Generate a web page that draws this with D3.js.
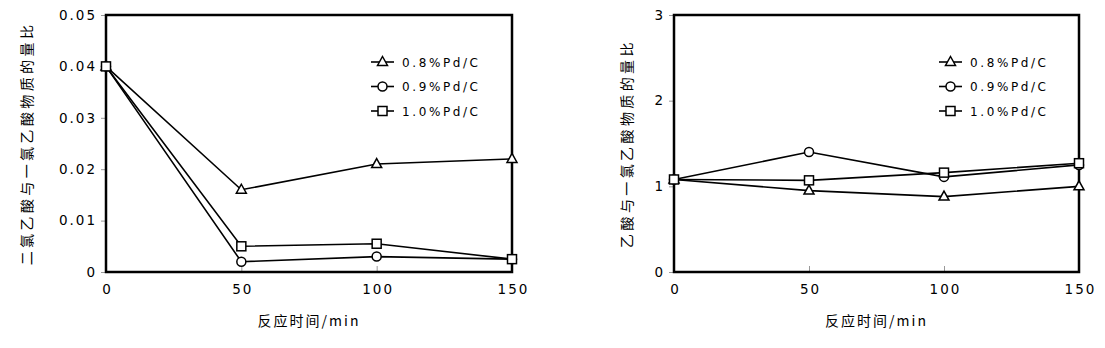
<!DOCTYPE html>
<html>
<head>
<meta charset="utf-8">
<script src="https://cdn.jsdelivr.net/npm/d3@7"></script>
<style>
  body { margin: 0; background: #fff; }
  svg text { fill: #000; }
</style>
</head>
<body>
<div id="chart"></div>
<script>
// data
const times = [0, 50, 100, 150];
const seriesNames = ["0.8%Pd/C", "0.9%Pd/C", "1.0%Pd/C"];
const markers = ["triangle", "circle", "square"];

// left: dichloroacetic / monochloroacetic ratio
const leftPd08 = [0.040, 0.016, 0.021, 0.022];
const leftPd09 = [0.040, 0.002, 0.003, 0.0025];
const leftPd10 = [0.040, 0.005, 0.0055, 0.0025];
const leftTicks = [0, 0.01, 0.02, 0.03, 0.04, 0.05];
const leftTitle = "二氯乙酸与一氯乙酸物质的量比";

// right: acetic / monochloroacetic ratio
const rightPd08 = [1.08, 0.95, 0.88, 1.00];
const rightPd09 = [1.08, 1.40, 1.11, 1.25];
const rightPd10 = [1.08, 1.07, 1.16, 1.27];
const rightTicks = [0, 1, 2, 3];
const rightTitle = "乙酸与一氯乙酸物质的量比";

const xTicks = [0, 50, 100, 150];
const xTitle = "反应时间/min";

const W = 1105, H = 348;
const svg = d3.select("#chart").append("svg")
    .attr("width", W)
    .attr("height", H);

const numFont = "'DejaVu Sans', sans-serif";
const cjkFont = "'Noto Sans CJK SC', sans-serif";

function drawMarker(g, type, cx, cy) {
    const s = 4.5;
    if (type === "triangle") {
        g.append("path")
            .attr("d", `M${cx},${cy - s - 1}L${cx + s + 0.5},${cy + s - 1}L${cx - s - 0.5},${cy + s - 1}Z`)
            .attr("fill", "#fff").attr("stroke", "#000").attr("stroke-width", 1.5);
    } else if (type === "circle") {
        g.append("circle")
            .attr("cx", cx).attr("cy", cy).attr("r", s)
            .attr("fill", "#fff").attr("stroke", "#000").attr("stroke-width", 1.5);
    } else {
        g.append("rect")
            .attr("x", cx - s).attr("y", cy - s)
            .attr("width", 2 * s).attr("height", 2 * s)
            .attr("fill", "#fff").attr("stroke", "#000").attr("stroke-width", 1.5);
    }
}

function drawPanel(p) {
    const x = d3.scaleLinear().domain([0, 150]).range([p.left, p.right]);
    const y = d3.scaleLinear().domain([0, p.ticks[p.ticks.length - 1]]).range([p.bottom, p.top]);
    const g = svg.append("g");

    // y ticks (outward) and labels
    const yAxis = d3.axisLeft(y).tickValues(p.ticks).tickSize(5).tickPadding(6)
        .tickFormat(p.fmt);
    const ya = g.append("g").attr("transform", `translate(${p.left},0)`).call(yAxis);
    ya.select(".domain").remove();
    ya.selectAll(".tick line").attr("stroke", "#999");
    ya.selectAll(".tick text")
        .attr("font-family", numFont).attr("font-size", 13.5)
        .attr("letter-spacing", 2).attr("dx", 2).attr("fill", "#000");

    // x ticks (inward) and labels
    const xAxis = d3.axisBottom(x).tickValues(xTicks).tickSize(-6).tickPadding(12);
    const xa = g.append("g").attr("transform", `translate(0,${p.bottom})`).call(xAxis);
    xa.select(".domain").remove();
    xa.selectAll(".tick line").attr("stroke", "#999");
    xa.selectAll(".tick text")
        .attr("font-family", numFont).attr("font-size", 13.5)
        .attr("letter-spacing", 2).attr("dx", 1).attr("fill", "#000");

    // frame
    g.append("rect")
        .attr("x", p.left).attr("y", p.top)
        .attr("width", p.right - p.left).attr("height", p.bottom - p.top)
        .attr("fill", "none").attr("stroke", "#000").attr("stroke-width", 2.5);

    const line = d3.line().x((d, i) => x(times[i])).y(d => y(d));

    p.series.forEach((vals, k) => {
        g.append("path").datum(vals)
            .attr("d", line)
            .attr("fill", "none").attr("stroke", "#000").attr("stroke-width", 1.6);
    });
    p.series.forEach((vals, k) => {
        vals.forEach((v, i) => drawMarker(g, markers[k], x(times[i]), y(v)));
    });

    // legend
    seriesNames.forEach((name, k) => {
        const ly = p.legendY + k * 24.5;
        g.append("line")
            .attr("x1", p.legendX).attr("x2", p.legendX + 23)
            .attr("y1", ly).attr("y2", ly)
            .attr("stroke", "#000").attr("stroke-width", 1.6);
        drawMarker(g, markers[k], p.legendX + 11.5, ly);
        g.append("text")
            .attr("x", p.legendX + 31).attr("y", ly + 4.5)
            .attr("font-family", numFont).attr("font-size", 12)
            .attr("letter-spacing", 2.6)
            .text(name);
    });

    // axis titles
    g.append("text")
        .attr("transform", `translate(${p.titleX},${(p.top + p.bottom) / 2}) rotate(-90)`)
        .attr("text-anchor", "middle").attr("dy", "0.35em")
        .attr("font-family", cjkFont).attr("font-size", 14)
        .attr("letter-spacing", 3.4)
        .text(p.title);

    g.append("text")
        .attr("x", (p.left + p.right) / 2).attr("y", 326)
        .attr("text-anchor", "middle")
        .attr("font-family", cjkFont).attr("font-size", 14)
        .attr("letter-spacing", 2)
        .text(xTitle);
}

drawPanel({
    left: 106, right: 512, top: 15, bottom: 272,
    ticks: leftTicks, fmt: d => d === 0 ? "0" : d3.format(".2f")(d),
    series: [leftPd08, leftPd09, leftPd10],
    legendX: 371, legendY: 62,
    titleX: 27, title: leftTitle
});

drawPanel({
    left: 674, right: 1079, top: 15, bottom: 272,
    ticks: rightTicks, fmt: d3.format("d"),
    series: [rightPd08, rightPd09, rightPd10],
    legendX: 939, legendY: 62,
    titleX: 627, title: rightTitle
});
</script>
</body>
</html>
